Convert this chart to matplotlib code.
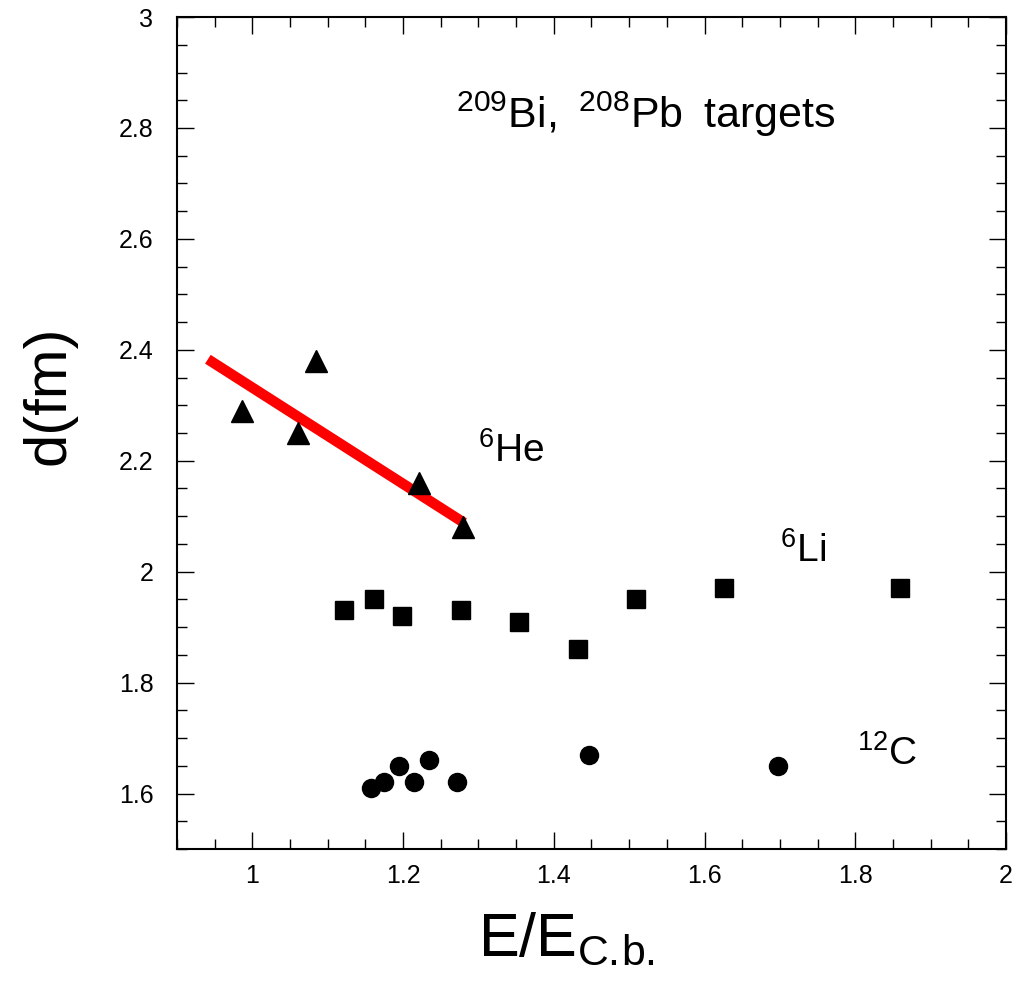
import matplotlib
matplotlib.use("Agg")
import matplotlib.pyplot as plt
from matplotlib.ticker import MultipleLocator

plt.rcParams["font.family"] = "Liberation Sans"
plt.rcParams["mathtext.fontset"] = "custom"
plt.rcParams["mathtext.rm"] = "Liberation Sans"
plt.rcParams["mathtext.it"] = "Liberation Sans:italic"
plt.rcParams["mathtext.bf"] = "Liberation Sans:bold"

# 6He (triangles)
he_x = [0.986, 1.084, 1.060, 1.221, 1.280]
he_d = [2.29, 2.38, 2.25, 2.16, 2.08]

# 6Li (squares)
li_x = [1.121, 1.161, 1.198, 1.277, 1.354, 1.432, 1.509, 1.626, 1.859]
li_d = [1.93, 1.95, 1.92, 1.93, 1.91, 1.86, 1.95, 1.97, 1.97]

# 12C (circles)
c_x = [1.157, 1.175, 1.195, 1.215, 1.235, 1.272, 1.447, 1.697]
c_d = [1.61, 1.62, 1.65, 1.62, 1.66, 1.62, 1.67, 1.65]

# red trend line for 6He
fit_x = [0.941, 1.281]
fit_d = [2.383, 2.088]

fig = plt.figure(figsize=(10.19, 9.85), dpi=100)
ax = fig.add_axes([0.1737, 0.1381, 0.8135, 0.8446])

ax.plot(fit_x, fit_d, color="red", lw=7.5, solid_capstyle="butt", zorder=3)
ax.plot(he_x, he_d, "^", color="black", ms=15.5, zorder=4)
ax.plot(li_x, li_d, "s", color="black", ms=13, zorder=4)
ax.plot(c_x, c_d, "o", color="black", ms=13, zorder=4)

ax.set_xlim(0.9, 2.0)
ax.set_ylim(1.5, 3.0)
ax.xaxis.set_major_locator(MultipleLocator(0.2))
ax.xaxis.set_minor_locator(MultipleLocator(0.05))
ax.yaxis.set_major_locator(MultipleLocator(0.2))
ax.yaxis.set_minor_locator(MultipleLocator(0.05))
ax.xaxis.set_major_formatter(plt.FuncFormatter(lambda v, p: f"{v:g}"))
ax.yaxis.set_major_formatter(plt.FuncFormatter(lambda v, p: f"{v:g}"))

ax.tick_params(which="both", direction="in", top=True, right=True, width=1.0, labelsize=18)
ax.tick_params(which="major", length=12.5)
ax.tick_params(which="minor", length=7)
ax.tick_params(axis="x", pad=11)
ax.tick_params(axis="y", pad=17)
for s in ax.spines.values():
    s.set_linewidth(1.5)

ax.set_xlabel(r"$\mathrm{E/E_{C.\!b.}}$", fontsize=44)
ax.xaxis.set_label_coords(0.47, -0.075, transform=ax.transAxes)
ax.xaxis.label.set_va("top")
ax.set_ylabel("d(fm)", fontsize=43)
ax.yaxis.set_label_coords(-0.121, 0.545, transform=ax.transAxes)

ax.text(1.270, 2.800, "$^{209}$Bi, \u2009$^{208}$Pb \u2009targets", fontsize=31, va="baseline")
ax.text(1.299, 2.198, r"$^{6}$He", fontsize=28, va="baseline")
ax.text(1.700, 2.0175, r"$^{6}$Li", fontsize=28, va="baseline")
ax.text(1.803, 1.652, r"$^{12}$C", fontsize=28, va="baseline")

fig.savefig("out.png", dpi=100)
